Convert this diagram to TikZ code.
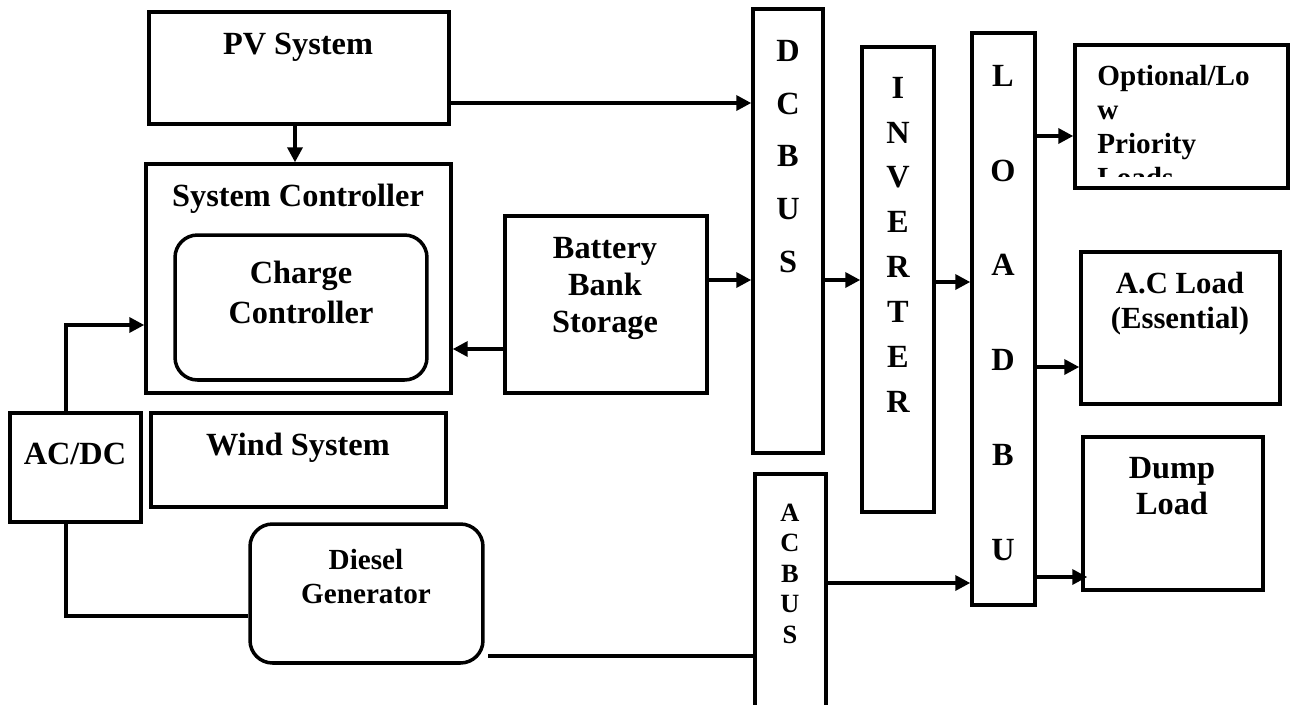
\documentclass[tikz,border=0pt]{standalone}
\usepackage{fontspec}
\setmainfont{Liberation Serif}
\usetikzlibrary{arrows.meta}

\begin{document}
\begin{tikzpicture}[
  x=0.02cm, y=-0.02cm,
  box/.style={draw, rectangle, line width=2pt, inner sep=0pt},
  rbox/.style={box, rounded corners=0.45cm},
  txt/.style={font=\bfseries\fontsize{18.4}{#1}\selectfont, align=center, anchor=base, inner sep=0pt},
  txt/.default=21pt,
  stxt/.style={font=\bfseries\fontsize{16.6}{#1}\selectfont, align=center, anchor=base, inner sep=0pt},
  stxt/.default=19.3pt,
  arr/.style={-{Triangle[length=0.3cm, width=0.3cm]}, line width=2pt},
  ln/.style={line width=2pt}
]
\useasboundingbox (0,0) rectangle (1296,704);

% ─── Sources and controller (left side) ───
\node[box, minimum width=6cm, minimum height=2.24cm] (pv) at (299,68) {};
\node[txt] (pvtxt) at (298,54) {PV System};

\node[box, minimum width=6.1cm, minimum height=4.58cm] (ctrl) at (298.5,278.5) {};
\node[txt] (ctrltxt) at (298,206) {System Controller};
\node[rbox, minimum width=5.04cm, minimum height=2.9cm] (chg) at (301,307.5) {};
% base anchor sits on the last line of a multi-line text
\node[txt=22.7pt] (chgtxt) at (301,323) {Charge\\Controller};

\node[box, minimum width=2.62cm, minimum height=2.18cm] (acdc) at (75.5,467.5) {};
\node[txt] (acdctxt) at (75,464) {AC/DC};

\node[box, minimum width=5.9cm, minimum height=1.88cm] (wind) at (298.5,460) {};
\node[txt] (windtxt) at (298,455) {Wind System};

\node[rbox, minimum width=4.66cm, minimum height=2.78cm] (diesel) at (366.5,593.5) {};
\node[stxt] (dgtxt) at (366,603) {Diesel\\Generator};

\node[box, minimum width=4.04cm, minimum height=3.54cm] (batt) at (606,304.5) {};
\node[txt] (batttxt) at (605,332) {Battery\\Bank\\Storage};

% ─── Buses and inverter ───
\node[box, minimum width=1.4cm, minimum height=8.88cm] (dcbus) at (788,231) {};
\node[txt=29.9pt] (dctxt) at (788,272) {D\\C\\B\\U\\S};

\node[box, minimum width=1.42cm, minimum height=4.72cm] (acbus) at (790.5,592) {};
\node[stxt=17.3pt, font=\bfseries\fontsize{15}{17.3}\selectfont] (actxt) at (790,643) {A\\C\\B\\U\\S};

\node[box, minimum width=1.44cm, minimum height=9.3cm] (inv) at (898,279.5) {};
\node[txt=25.5pt] (invtxt) at (898,412) {I\\N\\V\\E\\R\\T\\E\\R};

\node[box, minimum width=1.26cm, minimum height=11.44cm] (loadbus) at (1003.5,319) {};
\node[txt=53.9pt] (lbtxt) at (1003,560) {L\\O\\A\\D\\B\\U};

% ─── Loads ───
\node[box, minimum width=4.26cm, minimum height=2.86cm] (opt) at (1181.5,116.5) {};
\begin{scope}
  \clip (1077,47) rectangle (1286,176);
  \node[stxt, align=left, anchor=base west] (opttxt) at (1097,187) {Optional/Lo\\w\\Priority\\Loads};
\end{scope}

\node[box, minimum width=3.98cm, minimum height=3.04cm] (acl) at (1180.5,328) {};
\node[stxt=19.9pt, font=\bfseries\fontsize{17.5}{19.9}\selectfont] (acltxt) at (1180,328) {A.C Load\\(Essential)};

\node[box, minimum width=3.6cm, minimum height=3.06cm] (dump) at (1173,513.5) {};
\node[txt=20.4pt] (dumptxt) at (1172,514) {Dump\\Load};

% ─── Connectors ───
\draw[arr] (pv.east |- 0,103) -- (dcbus.west |- 0,103);
\draw[arr] (295,0 |- pv.south) -- (295,0 |- ctrl.north);
\draw[arr] (66,0 |- acdc.north) |- (ctrl.west |- 0,325);
\draw[ln] (66,0 |- acdc.south) |- (diesel.west |- 0,616);
\coordinate (dgout) at (488,656);
\draw[ln] (dgout) -- (acbus.west |- dgout);

\draw[arr] (batt.west |- 0,349) -- (ctrl.east |- 0,349);
\draw[arr] (batt.east |- 0,280) -- (dcbus.west |- 0,280);
\draw[arr] (dcbus.east |- 0,280) -- (inv.west |- 0,280);
\draw[arr] (inv.east |- 0,282) -- (loadbus.west |- 0,282);
\draw[arr] (acbus.east |- 0,583) -- (loadbus.west |- 0,583);

\draw[arr] (loadbus.east |- 0,136) -- (opt.west |- 0,136);
\draw[arr] (loadbus.east |- 0,367) -- (acl.west |- 0,367);
\draw[arr, shorten >=-0.12cm] (loadbus.east |- 0,577) -- (dump.west |- 0,577);

\end{tikzpicture}
\end{document}
